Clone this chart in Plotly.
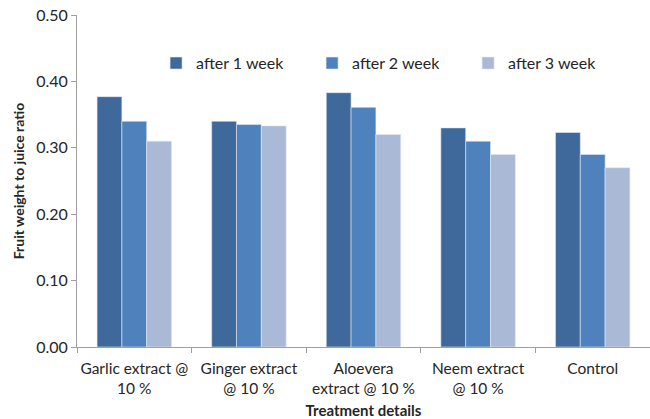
import plotly.graph_objects as go

categories = ["Garlic extract @<br>10 %", "Ginger extract<br>@ 10 %", "Aloevera<br>extract @ 10 %",
              "Neem extract<br>@ 10 %", "Control"]
week1 = [0.377, 0.340, 0.383, 0.330, 0.323]
week2 = [0.340, 0.335, 0.361, 0.310, 0.290]
week3 = [0.310, 0.333, 0.320, 0.290, 0.270]
series_names = ["after 1 week", "after 2 week", "after 3 week"]
colors = ["#3F689B", "#4F81BD", "#AAB9D6"]

FONT = "Lato"
TXT = "#262626"
fig = go.Figure()
for name, vals, col in zip(series_names, [week1, week2, week3], colors):
    fig.add_trace(go.Bar(x=categories, y=vals, name=name,
                         marker=dict(color=col, line=dict(color="#E3EAF4", width=0.6))))

fig.update_layout(
    width=650, height=419,
    margin=dict(l=77, r=0, t=15, b=72, autoexpand=False),
    paper_bgcolor="white", plot_bgcolor="white",
    barmode="group", bargap=0.35, bargroupgap=0,
    font=dict(family=FONT, size=15, color=TXT),
    legend=dict(orientation="h", x=0.138, y=0.855, xanchor="left", yanchor="middle",
                font=dict(family=FONT, size=16, color=TXT),
                entrywidth=111, entrywidthmode="pixels", bgcolor="rgba(0,0,0,0)"),
    showlegend=True,
)
fig.update_yaxes(range=[0, 0.5], dtick=0.1, tickformat=".2f", showgrid=False, automargin=False,
                 showline=True, linecolor="#A0A0A0", linewidth=1,
                 ticks="outside", ticklen=5, tickcolor="#A0A0A0",
                 tickfont=dict(family=FONT, size=16, color=TXT),
                 title=dict(text="<b>Fruit weight to juice ratio</b>", standoff=8,
                            font=dict(family=FONT, size=14, color=TXT)))
fig.update_xaxes(showgrid=False, showline=True, linecolor="#A0A0A0", linewidth=1, automargin=False,
                 ticks="outside", ticklen=5, tickcolor="#A0A0A0", tickson="boundaries",
                 tickangle=0, ticklabelstandoff=7,
                 tickfont=dict(family=FONT, size=15.5, color=TXT),
                 title=dict(text="<b>Treatment details</b>", standoff=9,
                            font=dict(family=FONT, size=15, color=TXT)))

fig.write_html("out.html", config={"displayModeBar": False},
               post_script="document.body.style.margin='0';")
